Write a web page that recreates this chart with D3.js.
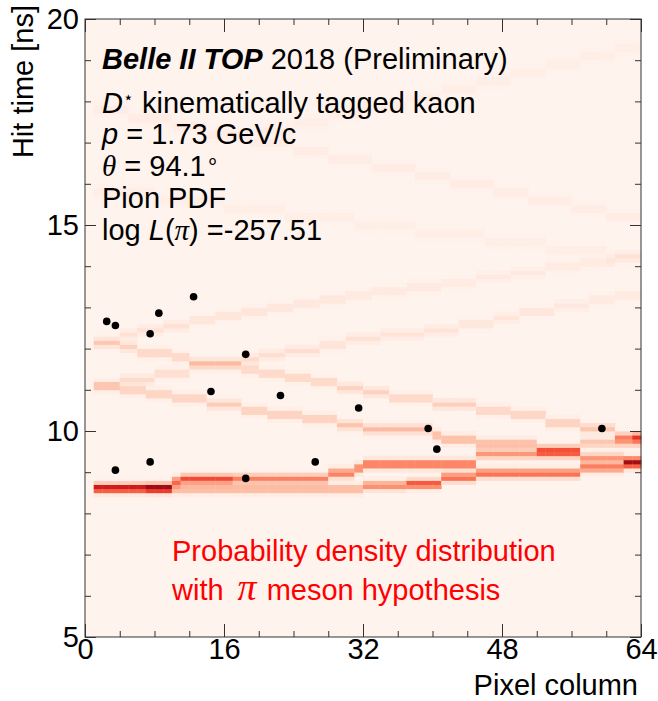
<!DOCTYPE html>
<html>
<head>
<meta charset="utf-8">
<script src="https://cdn.jsdelivr.net/npm/d3@7"></script>
<style>
  body { margin: 0; background: #fff; }
  svg text { font-family: "Liberation Sans", Arial, Helvetica, sans-serif; }
</style>
</head>
<body>
<div id="chart"></div>
<script>
// --- data -------------------------------------------------------------
// 64 pixel columns, hit time binned in 0.1 ns steps from 5 to 20 ns
var nCols = 64;
var tMin = 5, tMax = 20, tBin = 0.1;

// ridges of the pion PDF, as steps: [first column, end column, peak time (ns), strength]
var ridgeLow = [[1, 7, 8.62, 0.8], [7, 10, 8.62, 0.95], [10, 32, 8.6, 0.28], [32, 37, 8.68, 0.4],
  [37, 41, 8.72, 0.58], [41, 45, 8.88, 0.5], [45, 57, 8.98, 0.5], [57, 62, 9.12, 0.45], [62, 64, 9.2, 0.5]];
var ridgeLowBranch = [[10, 11, 8.78, 0.5], [11, 17, 8.84, 0.58], [17, 28, 8.85, 0.42], [28, 31, 8.98, 0.45],
  [31, 32, 9.1, 0.45], [32, 45, 9.2, 0.5], [45, 52, 9.45, 0.35], [52, 57, 9.45, 0.35],
  [57, 62, 9.35, 0.35], [62, 64, 9.28, 0.5]];
var ridgeMidStart = [[1, 4, 11.1, 0.25]];
var ridgeMidDown = [[4, 7, 11.0, 0.18], [7, 10, 10.9, 0.18], [10, 14, 10.8, 0.18], [14, 18, 10.65, 0.18],
  [18, 21, 10.5, 0.19], [21, 25, 10.4, 0.19], [25, 29, 10.3, 0.19], [29, 32, 10.15, 0.21],
  [32, 40, 10.05, 0.24], [40, 41, 9.9, 0.27], [41, 45, 9.8, 0.27], [45, 52, 9.7, 0.27],
  [52, 57, 9.55, 0.42], [57, 64, 9.72, 0.22]];
var ridgeMidUp = [[4, 8, 11.25, 0.13], [8, 12, 11.4, 0.13], [12, 18, 11.62, 0.12], [18, 20, 11.75, 0.12],
  [20, 23, 11.85, 0.11], [23, 27, 11.95, 0.11], [27, 30, 12.1, 0.1], [30, 34, 12.25, 0.1],
  [34, 39, 12.35, 0.09], [39, 43, 12.45, 0.09], [43, 47, 12.6, 0.08], [47, 50, 12.75, 0.08],
  [50, 54, 12.9, 0.08], [54, 58, 13.05, 0.07], [58, 61, 13.2, 0.07], [61, 64, 13.3, 0.07]];
var ridgeHighStart = [[1, 4, 12.15, 0.2]];
var ridgeHighDown = [[4, 6, 12.05, 0.16], [6, 10, 11.9, 0.16], [10, 12, 11.8, 0.16], [12, 18, 11.65, 0.13],
  [18, 20, 11.5, 0.16], [20, 23, 11.4, 0.16], [23, 26, 11.3, 0.16], [26, 29, 11.2, 0.16],
  [29, 32, 11.05, 0.16], [32, 35, 10.95, 0.16], [35, 40, 10.8, 0.16], [40, 45, 10.65, 0.17],
  [45, 49, 10.5, 0.17], [49, 53, 10.4, 0.18], [53, 57, 10.2, 0.19], [57, 61, 10.07, 0.21],
  [61, 63, 9.85, 0.38], [63, 64, 9.85, 0.6]];
var ridgeHighUp = [[4, 6, 12.35, 0.1], [6, 9, 12.45, 0.1], [9, 12, 12.55, 0.1], [12, 15, 12.7, 0.09],
  [15, 18, 12.8, 0.09], [18, 21, 12.9, 0.09], [21, 24, 13.0, 0.08], [24, 27, 13.1, 0.08],
  [27, 30, 13.2, 0.08], [30, 33, 13.3, 0.07], [33, 37, 13.4, 0.07], [37, 41, 13.5, 0.07],
  [41, 45, 13.6, 0.06], [45, 49, 13.75, 0.06], [49, 53, 13.85, 0.06], [53, 57, 14.0, 0.06],
  [57, 61, 14.1, 0.06], [61, 64, 14.25, 0.06]];
var ridgeFaint1 = [[1, 5, 17.8, 0.05], [5, 10, 17.6, 0.05], [10, 14, 17.4, 0.05], [14, 19, 17.2, 0.05],
  [19, 24, 17.0, 0.05], [24, 28, 16.8, 0.05], [28, 33, 16.6, 0.05], [33, 38, 16.4, 0.05],
  [38, 42, 16.2, 0.05], [42, 47, 16.0, 0.05], [47, 51, 15.8, 0.05], [51, 56, 15.6, 0.05],
  [56, 60, 15.4, 0.05], [60, 64, 15.2, 0.05]];
var ridgeFaint2 = [[1, 8, 15.8, 0.04], [8, 16, 15.6, 0.04], [16, 23, 15.4, 0.04], [23, 31, 15.2, 0.04],
  [31, 38, 15.0, 0.04], [38, 46, 14.8, 0.04], [46, 53, 14.6, 0.04], [53, 60, 14.4, 0.04], [60, 64, 14.2, 0.04]];
var ridgeFaint3 = [[20, 24, 17.3, 0.04], [24, 28, 17.5, 0.04], [28, 32, 17.7, 0.04], [32, 37, 17.9, 0.04],
  [37, 41, 18.1, 0.04], [41, 45, 18.3, 0.04], [45, 49, 18.5, 0.04], [49, 53, 18.7, 0.04],
  [53, 57, 18.9, 0.04], [57, 61, 19.1, 0.04], [61, 64, 19.3, 0.04]];
var pdfBackground = 0.01;

// observed photon hits of the track
var hitCols = [2, 3, 7, 8, 12, 18, 14, 22, 31, 39, 40, 59, 3, 7, 18, 26];
var hitTimes = [12.66, 12.56, 12.36, 12.86, 13.26, 11.86, 10.96, 10.86, 10.56, 10.06, 9.56, 10.06,
  9.05, 9.25, 8.85, 9.25];

var xTicks = [0, 16, 32, 48, 64];
var xMinorTicks = [4, 8, 12, 20, 24, 28, 36, 40, 44, 52, 56, 60];
var yTicks = [5, 10, 15, 20];
var yMinorTicks = [6, 7, 8, 9, 11, 12, 13, 14, 16, 17, 18, 19];

// --- layout -----------------------------------------------------------
var width = 658, height = 701;
var margin = { top: 19, right: 17, bottom: 64, left: 85 };
var plotW = width - margin.left - margin.right;
var plotH = height - margin.top - margin.bottom;
var fontSize = '29px';

var svg = d3.select('#chart').append('svg')
  .attr('width', width)
  .attr('height', height);

var x = d3.scaleLinear().domain([0, nCols]).range([margin.left, margin.left + plotW]);
var y = d3.scaleLinear().domain([tMin, tMax]).range([margin.top + plotH, margin.top]);
var color = d3.interpolateReds;

// --- heat map ---------------------------------------------------------
var nBins = Math.round((tMax - tMin) / tBin);
var sigma = 0.075;
var grid = [];
for (var c = 0; c < nCols; c++) {
  grid.push(new Array(nBins).fill(pdfBackground));
}
var ridges = [ridgeLow, ridgeLowBranch, ridgeMidStart, ridgeMidDown, ridgeMidUp,
  ridgeHighStart, ridgeHighDown, ridgeHighUp, ridgeFaint1, ridgeFaint2, ridgeFaint3];
ridges.forEach(function (ridge) {
  ridge.forEach(function (s) {
    for (var c = s[0]; c < s[1]; c++) {
      for (var k = 0; k < nBins; k++) {
        var tc = tMin + (k + 0.5) * tBin;
        var d = (tc - s[2]) / sigma;
        if (Math.abs(d) < 4) grid[c][k] += s[3] * Math.exp(-0.5 * d * d);
      }
    }
  });
});

var cells = [];
grid.forEach(function (col, c) {
  col.forEach(function (v, k) {
    cells.push({ c: c, k: k, v: Math.min(1, v) });
  });
});

svg.append('rect')
  .attr('x', margin.left).attr('y', margin.top)
  .attr('width', plotW).attr('height', plotH)
  .attr('fill', color(pdfBackground));

svg.append('g')
  .selectAll('rect')
  .data(cells.filter(function (d) { return d.v > pdfBackground + 0.005; }))
  .enter().append('rect')
  .attr('x', function (d) { return x(d.c); })
  .attr('y', function (d) { return y(tMin + (d.k + 1) * tBin); })
  .attr('width', function (d) { return x(d.c + 1) - x(d.c) + 0.4; })
  .attr('height', function (d) { return y(tMin) - y(tMin + tBin) + 0.4; })
  .attr('fill', function (d) { return color(d.v); });

// --- hits -------------------------------------------------------------
svg.append('g')
  .selectAll('circle')
  .data(hitCols)
  .enter().append('circle')
  .attr('cx', function (d) { return x(d + 0.5); })
  .attr('cy', function (d, i) { return y(hitTimes[i]); })
  .attr('r', 3.8)
  .attr('fill', '#000');

// --- axes (ROOT style, ticks inside on all four sides) ----------------
function styleAxis(g) {
  g.select('.domain').remove();
  g.selectAll('line').attr('stroke', '#333');
  g.selectAll('text').attr('fill', '#000').style('font-size', fontSize);
}
var bottom = margin.top + plotH, right = margin.left + plotW;

svg.append('g').attr('transform', 'translate(0,' + bottom + ')')
  .call(d3.axisBottom(x).tickValues(xTicks).tickSizeInner(-13).tickSizeOuter(0).tickPadding(1))
  .call(styleAxis);
svg.append('g').attr('transform', 'translate(0,' + bottom + ')')
  .call(d3.axisBottom(x).tickValues(xMinorTicks).tickSizeInner(-6).tickSizeOuter(0).tickFormat(''))
  .call(styleAxis);
svg.append('g').attr('transform', 'translate(0,' + margin.top + ')')
  .call(d3.axisTop(x).tickValues(xTicks).tickSizeInner(-13).tickSizeOuter(0).tickFormat(''))
  .call(styleAxis);
svg.append('g').attr('transform', 'translate(0,' + margin.top + ')')
  .call(d3.axisTop(x).tickValues(xMinorTicks).tickSizeInner(-6).tickSizeOuter(0).tickFormat(''))
  .call(styleAxis);

svg.append('g').attr('transform', 'translate(' + margin.left + ',0)')
  .call(d3.axisLeft(y).tickValues(yTicks).tickSizeInner(-11).tickSizeOuter(0).tickPadding(6))
  .call(styleAxis);
svg.append('g').attr('transform', 'translate(' + margin.left + ',0)')
  .call(d3.axisLeft(y).tickValues(yMinorTicks).tickSizeInner(-6).tickSizeOuter(0).tickFormat(''))
  .call(styleAxis);
svg.append('g').attr('transform', 'translate(' + right + ',0)')
  .call(d3.axisRight(y).tickValues(yTicks).tickSizeInner(-11).tickSizeOuter(0).tickFormat(''))
  .call(styleAxis);
svg.append('g').attr('transform', 'translate(' + right + ',0)')
  .call(d3.axisRight(y).tickValues(yMinorTicks).tickSizeInner(-6).tickSizeOuter(0).tickFormat(''))
  .call(styleAxis);

svg.append('rect')
  .attr('x', margin.left).attr('y', margin.top)
  .attr('width', plotW).attr('height', plotH)
  .attr('fill', 'none').attr('stroke', '#333').attr('stroke-width', 1);

// axis titles
svg.append('text')
  .attr('transform', 'translate(33,5) rotate(-90)')
  .attr('text-anchor', 'end')
  .style('font-size', fontSize)
  .text('Hit time [ns]');
svg.append('text')
  .attr('x', right - 3).attr('y', 695)
  .attr('text-anchor', 'end')
  .style('font-size', fontSize)
  .text('Pixel column');

// --- info text --------------------------------------------------------
var info = svg.append('g').style('font-size', fontSize);
var tx = 102;
var l1 = info.append('text').attr('x', tx).attr('y', 69);
l1.append('tspan').style('font-weight', 'bold').style('font-style', 'italic').text('Belle II TOP');
l1.append('tspan').text(' 2018 (Preliminary)');

var l2 = info.append('text').attr('x', tx).attr('y', 113);
l2.append('tspan').style('font-style', 'italic').text('D');
l2.append('tspan').attr('dy', -10).style('font-size', '17px').text('\u22c6');
l2.append('tspan').attr('dy', 10).text(' kinematically tagged kaon');

var l3 = info.append('text').attr('x', tx).attr('y', 144);
l3.append('tspan').style('font-style', 'italic').text('p');
l3.append('tspan').text(' = 1.73 GeV/c');

var l4 = info.append('text').attr('x', tx).attr('y', 176);
l4.append('tspan').style('font-style', 'italic').style('font-family', '"Liberation Serif", serif').text('\u03b8');
l4.append('tspan').text(' = 94.1');
l4.append('tspan').attr('dy', -9).style('font-size', '21px').text('\u2218');

var l5 = info.append('text').attr('x', tx).attr('y', 208);
l5.append('tspan').text('Pion PDF');

var l6 = info.append('text').attr('x', tx).attr('y', 240);
l6.append('tspan').text('log ');
l6.append('tspan').style('font-style', 'italic').text('L');
l6.append('tspan').text('(');
l6.append('tspan').style('font-style', 'italic').style('font-family', '"Liberation Serif", serif').text('\u03c0');
l6.append('tspan').text(') =-257.51');

// red annotation
var note = svg.append('g').style('font-size', fontSize).attr('fill', '#ff0000');
note.append('text').attr('x', 172).attr('y', 561).text('Probability density distribution');
var n2 = note.append('text').attr('x', 172).attr('y', 600);
n2.append('tspan').text('with');
n2.append('tspan').attr('dx', 14).style('font-family', '"Liberation Serif", serif').style('font-style', 'italic')
  .style('font-size', '38px').text('\u03c0');
n2.append('tspan').attr('dx', 10).text('meson hypothesis');
</script>
</body>
</html>
